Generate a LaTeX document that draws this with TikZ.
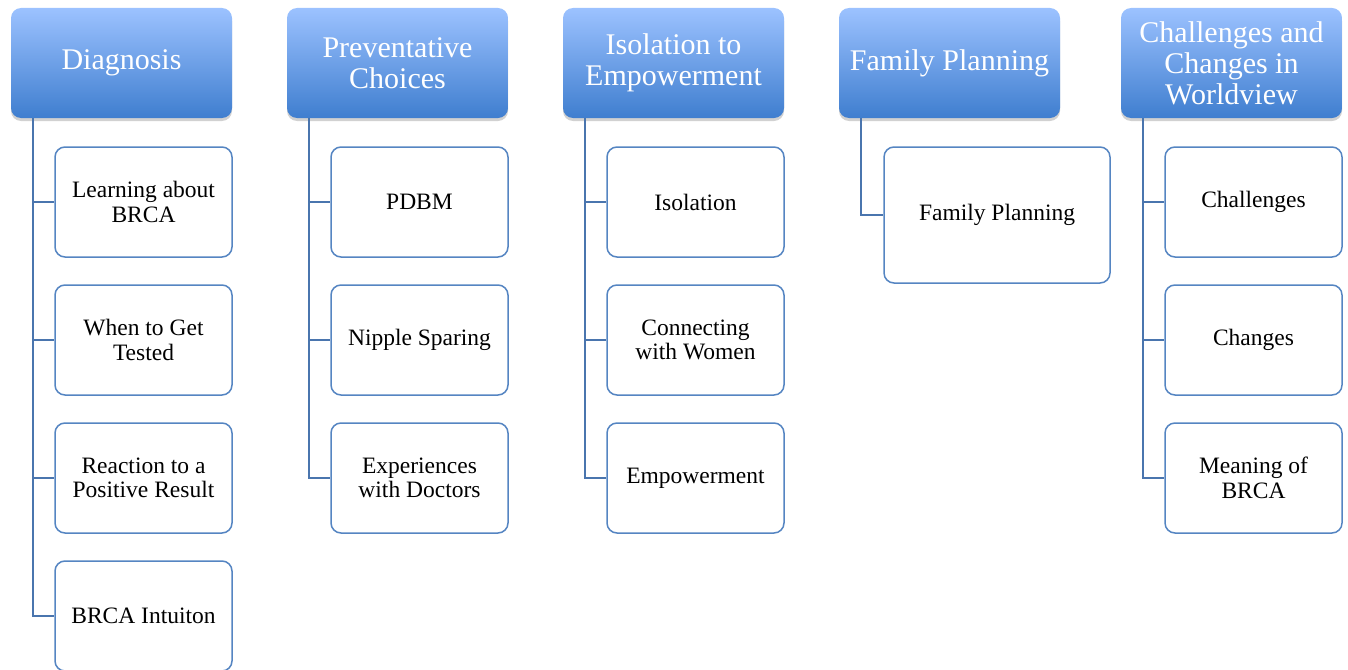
\documentclass[tikz,border=0pt]{standalone}
\usepackage{fontspec}
\setmainfont{Liberation Serif}
\usetikzlibrary{shadows}
\definecolor{hdtop}{HTML}{9CC2FF}
\definecolor{hdbot}{HTML}{3F7ECF}
\definecolor{edge}{HTML}{5585C2}
\definecolor{conn}{HTML}{4A75AE}
\tikzset{
  hdr/.style={rectangle, rounded corners=10pt, minimum width=221pt, minimum height=110pt,
    top color=hdtop, bottom color=hdbot, draw=none, text=white, align=center, inner sep=2pt,
    font=\fontsize{30}{31}\selectfont,
    drop shadow={shadow xshift=0pt, shadow yshift=-3pt, opacity=0.3, fill=black!60}},
  kid/.style={rectangle, rounded corners=10pt, minimum width=177pt, minimum height=110pt,
    draw=edge, line width=1.5pt, fill=white, text=black, align=center, inner sep=2pt,
    font=\fontsize{23.5}{24.5}\selectfont},
  link/.style={draw=conn, line width=2pt}
}
\begin{document}
\begin{tikzpicture}[x=1pt,y=-1pt]
\useasboundingbox (0,0) rectangle (1348,669);
% headers
\node[hdr] (h1) at (121.5,63) {Diagnosis};
\node[hdr] (h2) at (397.5,63) {Preventative\\Choices};
\node[hdr] (h3) at (673.5,63) {Isolation to\\Empowerment};
\node[hdr] (h4) at (949.5,63) {Family Planning};
\node[hdr] (h5) at (1231.5,63) {Challenges and\\Changes in\\Worldview};
% trunk start points
\coordinate (t1) at (33,118);
\coordinate (t2) at (309,118);
\coordinate (t3) at (585,118);
\coordinate (t4) at (861,118);
\coordinate (t5) at (1143,118);
% column 1
\node[kid] (c11) at (143.5,202) {Learning about\\BRCA};
\node[kid] (c12) at (143.5,340) {When to Get\\Tested};
\node[kid] (c13) at (143.5,478) {Reaction to a\\Positive Result};
\node[kid] (c14) at (143.5,616) {BRCA Intuiton};
% column 2
\node[kid] (c21) at (419.5,202) {PDBM};
\node[kid] (c22) at (419.5,340) {Nipple Sparing};
\node[kid] (c23) at (419.5,478) {Experiences\\with Doctors};
% column 3
\node[kid] (c31) at (695.5,202) {Isolation};
\node[kid] (c32) at (695.5,340) {Connecting\\with Women};
\node[kid] (c33) at (695.5,478) {Empowerment};
% column 4
\node[kid, minimum width=226pt, minimum height=136pt] (c41) at (997,215) {Family Planning};
% column 5
\node[kid] (c51) at (1253.5,202) {Challenges};
\node[kid] (c52) at (1253.5,340) {Changes};
\node[kid] (c53) at (1253.5,478) {Meaning of\\BRCA};
% connectors
\foreach \t/\c in {t1/c11,t1/c12,t1/c13,t1/c14,t2/c21,t2/c22,t2/c23,t3/c31,t3/c32,t3/c33,t4/c41,t5/c51,t5/c52,t5/c53}
  \draw[link] (\t) |- (\c.west);
\end{tikzpicture}
\end{document}
